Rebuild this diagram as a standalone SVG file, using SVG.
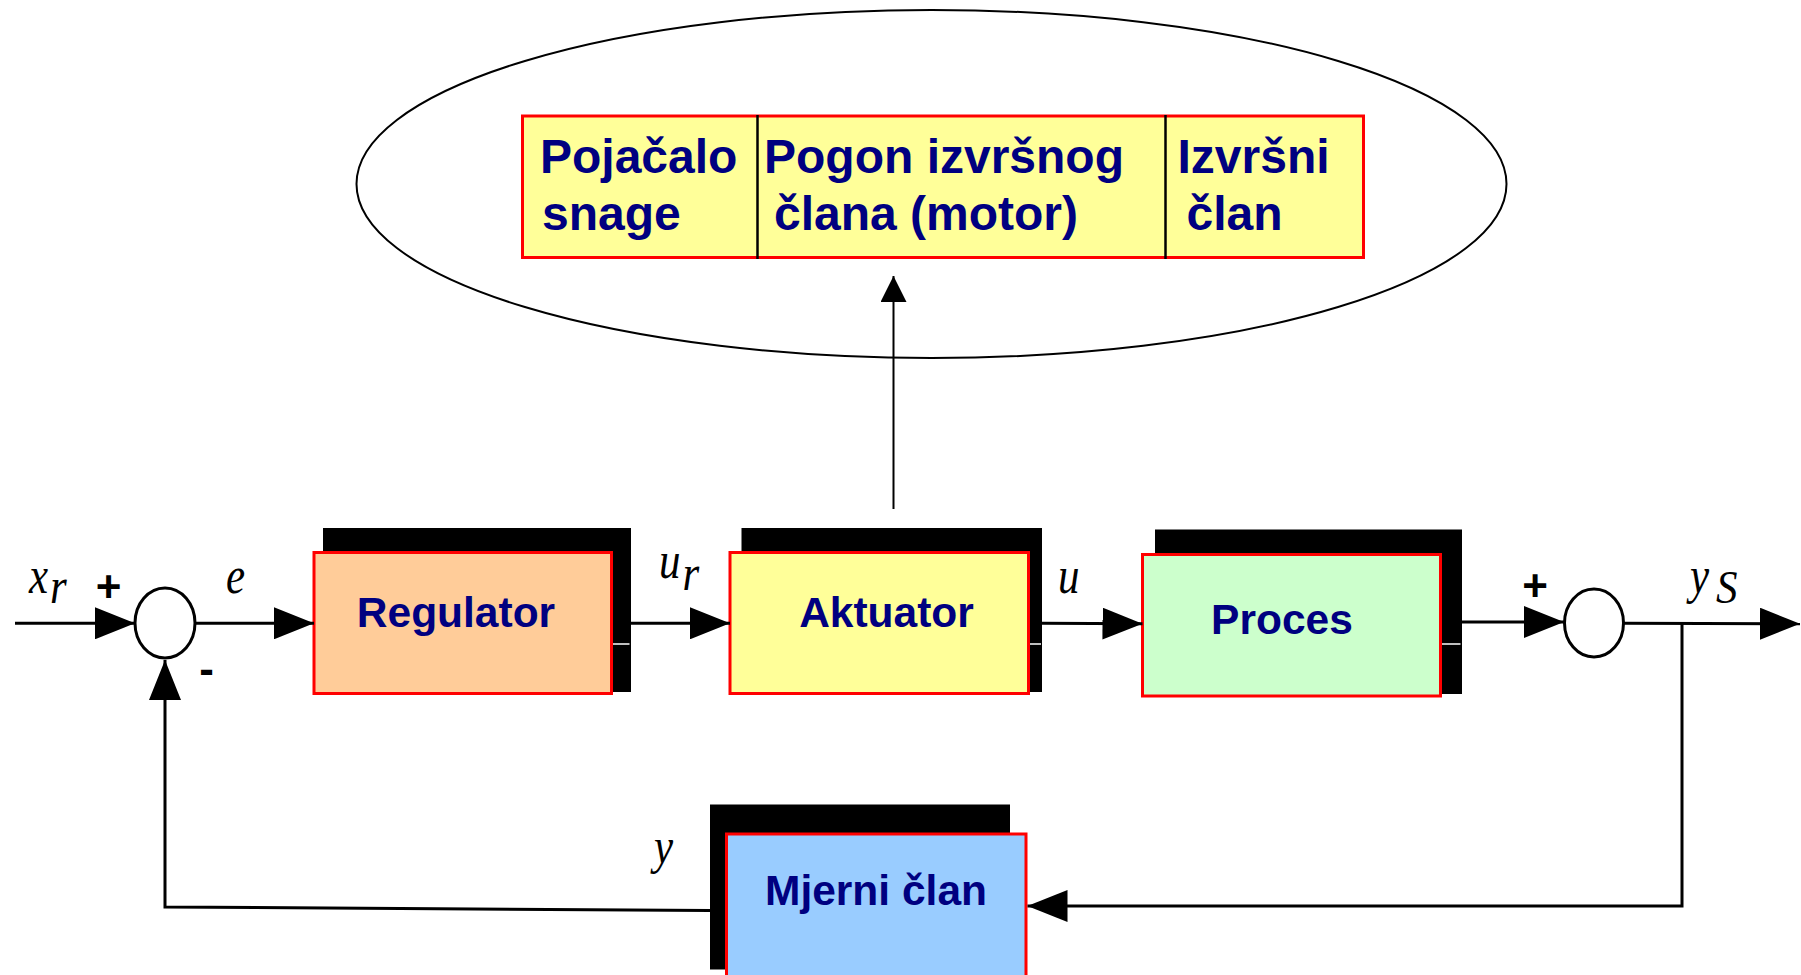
<svg xmlns="http://www.w3.org/2000/svg" width="1801" height="975" viewBox="0 0 1801 975">
  <style>
    .shadow { fill: #000000; }
    .box { stroke: #FF0000; stroke-width: 3; }
    .lbl { font-family: "Liberation Sans", Arial, sans-serif; font-weight: bold; font-size: 42.5px; fill: #000080; }
    .top { font-family: "Liberation Sans", Arial, sans-serif; font-weight: bold; font-size: 48px; fill: #000080; }
    .sig { font-family: "Liberation Serif", "Times New Roman", serif; font-style: italic; font-size: 43px; fill: #000000; }
    .sign { font-family: "Liberation Sans", Arial, sans-serif; font-weight: bold; font-size: 44px; fill: #000000; }
    .wire { fill: none; stroke: #000000; stroke-width: 3; }
    .thin { fill: none; stroke: #000000; stroke-width: 2; }
    .sum { fill: #FFFFFF; stroke: #000000; stroke-width: 3; }
    .gap { stroke: #FFFFFF; stroke-width: 1.5; }
  </style>
  <defs>
    <marker id="arrow" viewBox="0 0 40 32" refX="40" refY="16" markerWidth="40" markerHeight="32" markerUnits="userSpaceOnUse" orient="auto">
      <path d="M0,0 L40,16 L0,32 Z" fill="#000000"/>
    </marker>
    <marker id="arrowSmall" viewBox="0 0 26 26" refX="26" refY="13" markerWidth="26" markerHeight="26" markerUnits="userSpaceOnUse" orient="auto">
      <path d="M0,0 L26,13 L0,26 Z" fill="#000000"/>
    </marker>
  </defs>

  <rect width="1801" height="975" fill="#FFFFFF"/>

  <!-- breakdown of the actuator -->
  <g id="actuator-detail">
    <ellipse cx="931.5" cy="184" rx="575" ry="174" fill="none" stroke="#000000" stroke-width="2"/>
    <rect class="box" x="522.5" y="116" width="841" height="141.5" fill="#FFFF99"/>
    <line x1="757.5" y1="115" x2="757.5" y2="259" stroke="#000000" stroke-width="2.5"/>
    <line x1="1165.5" y1="115" x2="1165.5" y2="259" stroke="#000000" stroke-width="2.5"/>
    <text class="top" x="540" y="172.7">Pojačalo</text>
    <text class="top" x="542" y="229.5">snage</text>
    <text class="top" x="764" y="172.7">Pogon izvršnog</text>
    <text class="top" x="774" y="229.5">člana (motor)</text>
    <text class="top" x="1177.5" y="172.7">Izvršni</text>
    <text class="top" x="1186.5" y="229.5">član</text>
  </g>

  <!-- first summing junction -->
  <g id="sum-error">
    <ellipse class="sum" cx="165" cy="623" rx="30" ry="35"/>
    <text class="sign" x="108.7" y="602" text-anchor="middle">+</text>
    <text class="sign" x="206.5" y="684" text-anchor="middle">-</text>
  </g>

  <!-- second summing junction -->
  <g id="sum-output">
    <ellipse class="sum" cx="1594" cy="623" rx="29.5" ry="34"/>
    <text class="sign" x="1535" y="601" text-anchor="middle">+</text>
  </g>

  <g id="regulator">
    <rect class="shadow" x="323" y="528" width="308" height="164"/>
    <line class="gap" x1="612.5" y1="644" x2="629.5" y2="644"/>
    <rect class="box" x="314" y="552.5" width="297.5" height="141" fill="#FFCC99"/>
    <text class="lbl" x="456" y="627" text-anchor="middle">Regulator</text>
  </g>

  <g id="aktuator">
    <rect class="shadow" x="741.5" y="528" width="300.5" height="164"/>
    <line class="gap" x1="1029.5" y1="644" x2="1041" y2="644"/>
    <rect class="box" x="730" y="552.5" width="298.5" height="141" fill="#FFFF99"/>
    <text class="lbl" x="886.5" y="627" text-anchor="middle">Aktuator</text>
  </g>

  <g id="proces">
    <rect class="shadow" x="1155" y="529.5" width="307" height="164.5"/>
    <line class="gap" x1="1441.5" y1="644" x2="1460.5" y2="644"/>
    <rect class="box" x="1142.5" y="554.5" width="298" height="141.5" fill="#CCFFCC"/>
    <text class="lbl" x="1282" y="634" text-anchor="middle">Proces</text>
  </g>

  <g id="mjerni-clan">
    <rect class="shadow" x="710" y="804.5" width="300" height="165"/>
    <rect class="box" x="726.5" y="834" width="299.5" height="160" fill="#99CCFF"/>
    <text class="lbl" x="876" y="905" text-anchor="middle">Mjerni član</text>
  </g>

  <!-- signal names, set in a slightly tall italic -->
  <g id="signal-labels">
    <text class="sig" transform="translate(29 593.3) scale(1 1.22)">x</text>
    <text class="sig" transform="translate(50 603) scale(1 1.2)" font-size="38">r</text>
    <text class="sig" transform="translate(226 593.3) scale(1 1.22)">e</text>
    <text class="sig" transform="translate(659 578.3) scale(1 1.22)">u</text>
    <text class="sig" transform="translate(682.5 590) scale(1 1.2)" font-size="38">r</text>
    <text class="sig" transform="translate(1058 593.3) scale(1 1.22)">u</text>
    <text class="sig" transform="translate(1690 593.3) scale(1 1.22)">y</text>
    <text class="sig" transform="translate(1716 602.7) scale(1 1.1)" font-size="27">S</text>
    <text class="sig" transform="translate(654 863.3) scale(1 1.2)" font-size="45">y</text>
  </g>

  <g id="connectors">
    <line class="wire" x1="15" y1="623.3" x2="135" y2="623.3" marker-end="url(#arrow)"/>
    <line class="wire" x1="195" y1="623.3" x2="314" y2="623.3" marker-end="url(#arrow)"/>
    <line class="wire" x1="631" y1="623.3" x2="730" y2="623.3" marker-end="url(#arrow)"/>
    <line class="wire" x1="1042" y1="623.3" x2="1142.5" y2="623.8" marker-end="url(#arrow)"/>
    <line class="wire" x1="1462" y1="622" x2="1564" y2="622" marker-end="url(#arrow)"/>
    <line class="wire" x1="1623.5" y1="623.3" x2="1800" y2="623.8" marker-end="url(#arrow)"/>
    <polyline class="wire" points="1682,623.5 1682,906 1027.5,906" marker-end="url(#arrow)"/>
    <polyline class="wire" points="710,910.5 165,907 165,660" marker-end="url(#arrow)"/>
    <line class="thin" x1="893.5" y1="509" x2="893.5" y2="276" marker-end="url(#arrowSmall)"/>
  </g>
</svg>
